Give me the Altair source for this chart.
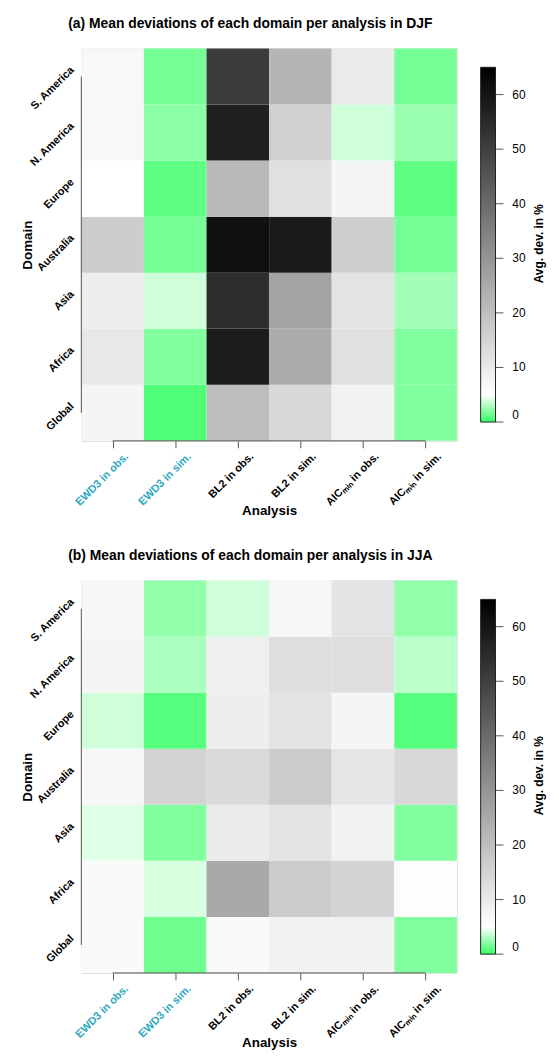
import altair as alt
import pandas as pd

domains = ["Global", "Africa", "Asia", "Australia", "Europe", "N. America", "S. America"]  # bottom to top
analyses = ["EWD3 in obs.", "EWD3 in sim.", "BL2 in obs.", "BL2 in sim.",
            "AICₘᵢₙ in obs.", "AICₘᵢₙ in sim."]

# DJF mean deviations (%), one list per domain, columns in order of `analyses`
djf_global = [7.4, 0.6, 20.5, 14.2, 8.1, 1.9]
djf_africa = [10.4, 1.9, 58.4, 24.8, 12.3, 1.9]
djf_asia = [9.2, 3.8, 54.2, 26.6, 11.6, 2.7]
djf_australia = [16.8, 1.6, 61.2, 58.9, 16.3, 1.6]
djf_europe = [5.0, 1.0, 21.7, 12.3, 7.4, 1.0]
djf_namerica = [6.6, 2.1, 57.5, 16.0, 3.8, 2.5]
djf_samerica = [6.6, 1.6, 50.9, 22.4, 9.7, 1.6]

# JJA mean deviations (%)
jja_global = [6.2, 1.4, 6.4, 8.1, 8.1, 1.9]
jja_africa = [6.2, 4.0, 25.5, 17.2, 15.1, 5.5]
jja_asia = [4.2, 1.9, 9.7, 11.6, 8.1, 1.9]
jja_australia = [6.9, 15.6, 13.9, 17.2, 11.1, 14.4]
jja_europe = [3.8, 0.8, 9.0, 11.6, 7.4, 0.8]
jja_namerica = [7.4, 2.9, 8.8, 12.8, 12.8, 3.3]
jja_samerica = [6.9, 2.3, 3.8, 6.9, 11.6, 2.3]

djf = [djf_global, djf_africa, djf_asia, djf_australia, djf_europe, djf_namerica, djf_samerica]
jja = [jja_global, jja_africa, jja_asia, jja_australia, jja_europe, jja_namerica, jja_samerica]

legend_ticks = [0, 10, 20, 30, 40, 50, 60]
legend_max = 65
color_domain = [0, 5, 65]
color_range = ["#36ff64", "#ffffff", "#000000"]
legend_title = "Avg. dev. in %"

FONT = "Liberation Sans"
W, H = 379, 396
BAR_TOP, BAR_LEN, BAR_X, BAR_W = 19, 358, 403, 15


def to_df(rows):
    recs = []
    for yi, row in enumerate(rows):
        for xi, v in enumerate(row):
            recs.append({"x0": xi - 0.5, "x1": xi + 0.5, "y0": yi - 0.5, "y1": yi + 0.5,
                         "value": v, "Domain": domains[yi], "Analysis": analyses[xi]})
    return pd.DataFrame(recs)


x_label_expr = "[" + ",".join("'" + a + "'" for a in analyses) + "][datum.value]"
y_label_expr = "[" + ",".join("'" + d + "'" for d in domains) + "][datum.value]"


def panel(rows, title):
    df = to_df(rows)
    xscale = alt.Scale(domain=[-0.5, 5.5], nice=False, zero=False)
    yscale = alt.Scale(domain=[-0.5, 6.5], nice=False, zero=False)
    rect = alt.Chart(df).mark_rect(strokeWidth=0).encode(
        x=alt.X("x0:Q", scale=xscale,
                axis=alt.Axis(values=list(range(len(analyses))), labelExpr=x_label_expr,
                              domain=False, grid=False, ticks=True, tickSize=7,
                              tickColor="#555555", labelAngle=-45, labelAlign="right",
                              labelBaseline="alphabetic", labelFont=FONT, labelFontSize=11,
                              labelFontWeight="bold", labelPadding=9, labelOffset=16,
                              labelColor={"condition": {"test": "datum.value < 2", "value": "#2fa8c2"},
                                          "value": "black"},
                              title="Analysis", titleFont=FONT, titleFontSize=13.5,
                              titleFontWeight="bold", titleY=63, titleBaseline="top")),
        x2="x1:Q",
        y=alt.Y("y0:Q", scale=yscale,
                axis=alt.Axis(values=list(range(len(domains))), labelExpr=y_label_expr,
                              domain=False, grid=False, ticks=False, labelAngle=-45,
                              labelAlign="right", labelBaseline="bottom", labelFont=FONT,
                              labelFontSize=11, labelFontWeight="bold", labelPadding=6,
                              labelOffset=-5, labelColor="black",
                              title="Domain", titleFont=FONT, titleFontSize=13.5,
                              titleFontWeight="bold", titleX=-54, titleY=H / 2,
                              titleBaseline="middle")),
        y2="y1:Q",
        color=alt.Color("value:Q", title=None,
                        scale=alt.Scale(domain=color_domain, range=color_range, interpolate="rgb"),
                        legend=alt.Legend(orient="none", legendX=BAR_X, legendY=BAR_TOP,
                                          direction="vertical", gradientLength=BAR_LEN,
                                          gradientThickness=BAR_W, gradientStrokeColor="#222222",
                                          gradientStrokeWidth=1, values=legend_ticks,
                                          labelFont=FONT, labelFontSize=12, labelOffset=17)),
        tooltip=["Domain", "Analysis", "value"],
    )
    dummy = pd.DataFrame({"a": [0]})
    xline = alt.Chart(dummy).mark_rule(color="#555555", strokeWidth=1).encode(
        x=alt.datum(0), x2=alt.datum(len(analyses) - 1), y=alt.datum(-0.5))
    yline = alt.Chart(dummy).mark_rule(color="#555555", strokeWidth=1).encode(
        y=alt.datum(0), y2=alt.datum(len(domains) - 1), x=alt.datum(-0.5))
    inner = alt.layer(rect, xline, yline)

    ticks_df = pd.DataFrame({"t": legend_ticks})
    bar_ticks = alt.Chart(ticks_df).mark_rule(color="#555555", strokeWidth=1).encode(
        y=alt.Y("t:Q", scale=alt.Scale(domain=[0, legend_max], range=[BAR_TOP + BAR_LEN, BAR_TOP],
                                       nice=False, zero=False), axis=None),
        x=alt.value(BAR_X + BAR_W), x2=alt.value(BAR_X + BAR_W + 8))
    ltitle = alt.Chart(pd.DataFrame({"label": [legend_title]})).mark_text(
        font=FONT, fontSize=12, fontWeight="bold", angle=270, align="center",
        baseline="middle", color="black").encode(
        text="label:N", x=alt.value(462), y=alt.value(197))

    return alt.layer(inner, bar_ticks, ltitle).resolve_scale(y="independent").properties(
        width=W, height=H,
        title=alt.TitleParams(title, font=FONT, fontSize=14, fontWeight="bold",
                              anchor="middle", offset=18, dx=-19),
    )


top = panel(djf, "(a) Mean deviations of each domain per analysis in DJF")
bottom = panel(jja, "(b) Mean deviations of each domain per analysis in JJA")

chart = alt.vconcat(top, bottom, spacing=31).resolve_scale(color="independent").configure_view(
    stroke=None).configure(padding={"left": 12, "top": 3, "right": 5, "bottom": 5})

chart.save("out.html", embed_options={"renderer": "svg", "actions": False})
